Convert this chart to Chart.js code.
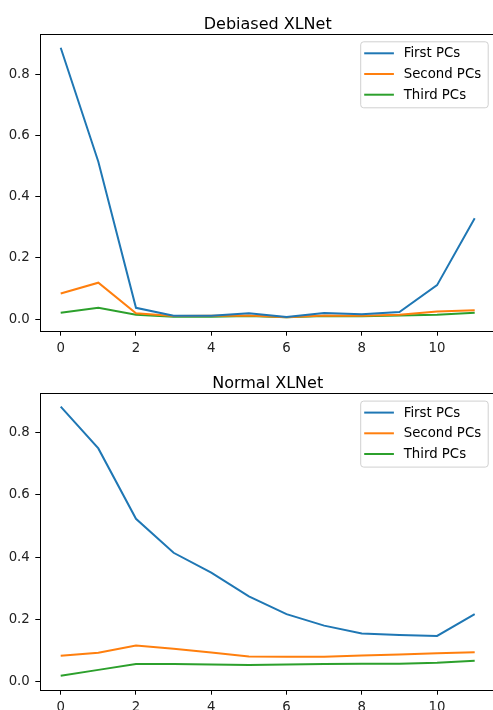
<!DOCTYPE html>
<html>
<head>
<meta charset="utf-8">
<script src="https://cdn.jsdelivr.net/npm/chart.js@4/dist/chart.umd.min.js"></script>
<style>
  html, body { margin: 0; padding: 0; overflow: hidden; background: #fff; width: 493px; height: 710px; }
  .wrap { position: absolute; left: 0; width: 500px; }
  #w1 { top: 0; height: 360px; }
  #w2 { top: 360px; height: 360px; }
</style>
</head>
<body>
<div class="wrap" id="w1"><canvas id="c1"></canvas></div>
<div class="wrap" id="w2"><canvas id="c2"></canvas></div>
<script>
// ---- data ----
const layers = [0, 1, 2, 3, 4, 5, 6, 7, 8, 9, 10, 11];
const seriesNames = ["First PCs", "Second PCs", "Third PCs"];
const titles = ["Debiased XLNet", "Normal XLNet"];
const xTicks = [0, 2, 4, 6, 8, 10];
const yTicks = [0.0, 0.2, 0.4, 0.6, 0.8];

const debiasedFirst  = [0.888, 0.515, 0.037, 0.011, 0.011, 0.019, 0.007, 0.020, 0.016, 0.023, 0.111, 0.330];
const debiasedSecond = [0.084, 0.119, 0.019, 0.010, 0.011, 0.012, 0.006, 0.012, 0.011, 0.014, 0.025, 0.029];
const debiasedThird  = [0.021, 0.037, 0.014, 0.008, 0.008, 0.010, 0.006, 0.010, 0.009, 0.012, 0.014, 0.021];

const normalFirst  = [0.883, 0.749, 0.523, 0.414, 0.350, 0.274, 0.217, 0.180, 0.155, 0.150, 0.147, 0.217];
const normalSecond = [0.083, 0.093, 0.116, 0.106, 0.094, 0.081, 0.080, 0.080, 0.084, 0.087, 0.091, 0.095];
const normalThird  = [0.019, 0.038, 0.057, 0.057, 0.055, 0.054, 0.055, 0.057, 0.058, 0.058, 0.061, 0.067];

const colors = ["#1f77b4", "#ff7f0e", "#2ca02c"];

function pts(vals) { return layers.map((l, i) => ({ x: l, y: vals[i] })); }

// frame (all four spines), title and in-axes legend
const framePlugin = {
  id: 'frame',
  afterDatasetsDraw(chart) {
    const a = chart.chartArea, ctx = chart.ctx;
    ctx.save();
    ctx.strokeStyle = '#000';
    ctx.lineWidth = 1;
    ctx.strokeRect(Math.round(a.left) + 0.5, Math.round(a.top) + 0.5,
                   Math.round(a.right - a.left), Math.round(a.bottom - a.top));
    // title
    ctx.fillStyle = '#000';
    ctx.font = '16px "DejaVu Sans"';
    ctx.textAlign = 'center';
    ctx.textBaseline = 'alphabetic';
    ctx.fillText(chart.options.plugins.frame.title, (a.left + a.right) / 2, a.top - 5.5);
    // legend
    const lw = 127.5, lh = 66, lx = a.right - 7.2 - lw, ly = a.top + 7.8;
    ctx.beginPath();
    const r = 3;
    ctx.moveTo(lx + r, ly);
    ctx.arcTo(lx + lw, ly, lx + lw, ly + lh, r);
    ctx.arcTo(lx + lw, ly + lh, lx, ly + lh, r);
    ctx.arcTo(lx, ly + lh, lx, ly, r);
    ctx.arcTo(lx, ly, lx + lw, ly, r);
    ctx.closePath();
    ctx.fillStyle = 'rgba(255,255,255,0.8)';
    ctx.fill();
    ctx.strokeStyle = '#d0d0d0';
    ctx.lineWidth = 1;
    ctx.stroke();
    ctx.font = '13.3px "DejaVu Sans"';
    ctx.textAlign = 'left';
    ctx.textBaseline = 'middle';
    chart.data.datasets.forEach((ds, i) => {
      const y = ly + 11.5 + i * 20.7;
      ctx.strokeStyle = ds.borderColor;
      ctx.lineWidth = 2;
      ctx.beginPath();
      ctx.moveTo(lx + 3.5, y);
      ctx.lineTo(lx + 33.2, y);
      ctx.stroke();
      ctx.fillStyle = '#000';
      ctx.fillText(ds.label, lx + 43, y + 0.5);
    });
    ctx.restore();
  }
};

function makeChart(id, title, series, yMin, yMax, padTop, xAxisH) {
  return new Chart(document.getElementById(id), {
    type: 'line',
    data: {
      datasets: series.map((vals, i) => ({
        label: seriesNames[i],
        data: pts(vals),
        borderColor: colors[i],
        backgroundColor: colors[i],
        borderWidth: 2,
        pointRadius: 0,
        tension: 0,
        fill: false
      }))
    },
    options: {
      responsive: true,
      maintainAspectRatio: false,
      animation: false,
      events: [],
      layout: { padding: { top: padTop, right: 4.6, left: 0, bottom: 0 } },
      plugins: {
        legend: { display: false },
        title: { display: false },
        tooltip: { enabled: false },
        frame: { title: title }
      },
      scales: {
        x: {
          type: 'linear',
          min: -0.55,
          max: 11.55,
          afterBuildTicks: s => { s.ticks = xTicks.map(v => ({ value: v })); },
          afterFit: s => { s.height = xAxisH; },
          grid: { drawOnChartArea: false, drawTicks: true, tickLength: 4.7, color: '#000', tickWidth: 1 },
          border: { display: true, color: '#000', width: 1 },
          ticks: {
            color: '#222',
            padding: 5,
            maxRotation: 0,
            autoSkip: false,
            font: { family: 'DejaVu Sans', size: 13.3 },
            callback: v => String(v)
          }
        },
        y: {
          min: yMin,
          max: yMax,
          afterBuildTicks: s => { s.ticks = yTicks.map(v => ({ value: v })); },
          afterFit: s => { s.width = 40; },
          grid: { drawOnChartArea: false, drawTicks: true, tickLength: 4.7, color: '#000', tickWidth: 1 },
          border: { display: true, color: '#000', width: 1 },
          ticks: {
            color: '#222',
            padding: 5.5,
            autoSkip: false,
            font: { family: 'DejaVu Sans', size: 13.3 },
            callback: v => v.toFixed(1)
          }
        }
      }
    },
    plugins: [framePlugin]
  });
}

makeChart('c1', titles[0], [debiasedFirst, debiasedSecond, debiasedThird], -0.039, 0.933, 34, 29);
makeChart('c2', titles[1], [normalFirst, normalSecond, normalThird], -0.0266, 0.926, 33.3, 30);
</script>
</body>
</html>
